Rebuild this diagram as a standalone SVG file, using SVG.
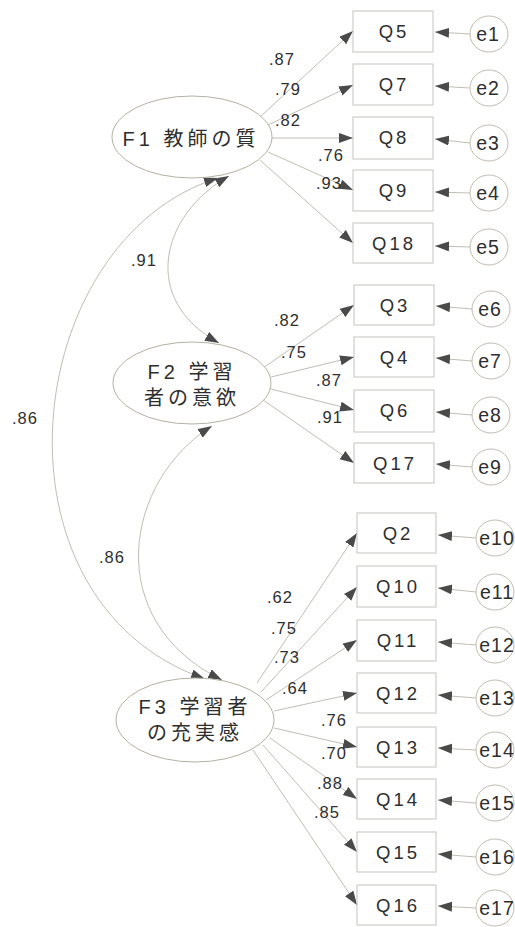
<svg xmlns="http://www.w3.org/2000/svg" width="515" height="927" viewBox="0 0 515 927">
<style>
.bg{fill:#ffffff}
.box{fill:#ffffff;stroke:#c4c4bc;stroke-width:1}
.lat{fill:#ffffff;stroke:#b4b0a2;stroke-width:1}
.err{fill:#ffffff;stroke:#c0bcb0;stroke-width:1}
.ln{fill:none;stroke:#b8b6aa;stroke-width:0.9}
.t{font-family:"Liberation Sans","Noto Sans CJK JP",sans-serif;fill:#2e2e2e}
.q{font-size:18.5px;letter-spacing:3px;text-anchor:middle}
.e{font-size:19.5px;letter-spacing:1px;text-anchor:middle}
.f{font-family:"Liberation Sans","Noto Sans CJK JP",sans-serif;font-size:20px;letter-spacing:4px;text-anchor:middle;fill:#2e2e2e}
.v{font-size:16.5px;letter-spacing:1px}
</style>
<defs>
<marker id="ah" markerUnits="userSpaceOnUse" markerWidth="15" markerHeight="11" refX="14" refY="5" orient="auto-start-reverse">
<path d="M0,0 L14,5 L0,10 Z" fill="#4a4a4a"/>
</marker>
</defs>
<rect class="bg" x="0" y="0" width="515" height="927"/>

<g id="connectors">
<line class="ln" x1="260" y1="117" x2="353" y2="31" marker-end="url(#ah)"/>
<line class="ln" x1="268" y1="125" x2="353" y2="85" marker-end="url(#ah)"/>
<line class="ln" x1="272" y1="138" x2="353" y2="138" marker-end="url(#ah)"/>
<line class="ln" x1="268" y1="152" x2="353" y2="190" marker-end="url(#ah)"/>
<line class="ln" x1="260" y1="160" x2="353" y2="243" marker-end="url(#ah)"/>
<line class="ln" x1="263" y1="368" x2="354" y2="305" marker-end="url(#ah)"/>
<line class="ln" x1="271" y1="377" x2="354" y2="357" marker-end="url(#ah)"/>
<line class="ln" x1="271" y1="389" x2="354" y2="410" marker-end="url(#ah)"/>
<line class="ln" x1="263" y1="400" x2="354" y2="463" marker-end="url(#ah)"/>
<line class="ln" x1="257" y1="683" x2="357" y2="533" marker-end="url(#ah)"/>
<line class="ln" x1="261" y1="692" x2="357" y2="587" marker-end="url(#ah)"/>
<line class="ln" x1="266" y1="700" x2="357" y2="640" marker-end="url(#ah)"/>
<line class="ln" x1="274" y1="711" x2="357" y2="693" marker-end="url(#ah)"/>
<line class="ln" x1="274" y1="728" x2="357" y2="747" marker-end="url(#ah)"/>
<line class="ln" x1="270" y1="738" x2="357" y2="799" marker-end="url(#ah)"/>
<line class="ln" x1="263" y1="745" x2="357" y2="852" marker-end="url(#ah)"/>
<line class="ln" x1="253" y1="750" x2="357" y2="905" marker-end="url(#ah)"/>
<line class="ln" x1="470" y1="34" x2="435" y2="32" marker-end="url(#ah)"/>
<line class="ln" x1="470" y1="88" x2="435" y2="86" marker-end="url(#ah)"/>
<line class="ln" x1="470" y1="143" x2="435" y2="139" marker-end="url(#ah)"/>
<line class="ln" x1="470" y1="193" x2="435" y2="192" marker-end="url(#ah)"/>
<line class="ln" x1="470" y1="247" x2="435" y2="246" marker-end="url(#ah)"/>
<line class="ln" x1="472" y1="309" x2="436" y2="306" marker-end="url(#ah)"/>
<line class="ln" x1="472" y1="361" x2="436" y2="358" marker-end="url(#ah)"/>
<line class="ln" x1="472" y1="415" x2="436" y2="412" marker-end="url(#ah)"/>
<line class="ln" x1="472" y1="467" x2="436" y2="464" marker-end="url(#ah)"/>
<line class="ln" x1="476" y1="538" x2="438" y2="535" marker-end="url(#ah)"/>
<line class="ln" x1="476" y1="592" x2="438" y2="588" marker-end="url(#ah)"/>
<line class="ln" x1="476" y1="645" x2="438" y2="642" marker-end="url(#ah)"/>
<line class="ln" x1="476" y1="698" x2="438" y2="695" marker-end="url(#ah)"/>
<line class="ln" x1="476" y1="750" x2="438" y2="748" marker-end="url(#ah)"/>
<line class="ln" x1="476" y1="803" x2="438" y2="800" marker-end="url(#ah)"/>
<line class="ln" x1="476" y1="857" x2="438" y2="854" marker-end="url(#ah)"/>
<line class="ln" x1="476" y1="908" x2="438" y2="906" marker-end="url(#ah)"/>
<path class="ln" d="M229,176 C160,215 140,300 219,343" marker-start="url(#ah)" marker-end="url(#ah)"/>
<path class="ln" d="M218,178 C20,240 -20,600 205,679" marker-start="url(#ah)" marker-end="url(#ah)"/>
<path class="ln" d="M212,426 C125,480 100,620 222,680" marker-start="url(#ah)" marker-end="url(#ah)"/>
<g class="t v">
<text x="269" y="65">.87</text>
<text x="275" y="95">.79</text>
<text x="275" y="126">.82</text>
<text x="318" y="161">.76</text>
<text x="316" y="189">.93</text>
<text x="131" y="266">.91</text>
<text x="274" y="326">.82</text>
<text x="281" y="358">.75</text>
<text x="316" y="386">.87</text>
<text x="317" y="423">.91</text>
<text x="12" y="424">.86</text>
<text x="99" y="563">.86</text>
<text x="267" y="603">.62</text>
<text x="271" y="634">.75</text>
<text x="274" y="663">.73</text>
<text x="282" y="694">.64</text>
<text x="321" y="726">.76</text>
<text x="321" y="759">.70</text>
<text x="317" y="789">.88</text>
<text x="314" y="818">.85</text>
</g>
</g>

<g id="F1"><ellipse class="lat" cx="192" cy="137" rx="80" ry="41"/><text class="f" x="191" y="146">F1 教師の質</text></g>
<g id="F2"><ellipse class="lat" cx="192" cy="383" rx="79" ry="41"/><text class="f" x="192" y="379">F2 学習</text><text class="f" x="192" y="405">者の意欲</text></g>
<g id="F3"><ellipse class="lat" cx="195" cy="720" rx="79" ry="42"/><text class="f" x="195" y="714">F3 学習者</text><text class="f" x="195" y="740">の充実感</text></g>

<g id="Q5"><rect class="box" x="353" y="11" width="80" height="41"/><text class="t q" x="394" y="38">Q5</text></g>
<g id="Q7"><rect class="box" x="353" y="64" width="80" height="41"/><text class="t q" x="394" y="91">Q7</text></g>
<g id="Q8"><rect class="box" x="353" y="117" width="80" height="42"/><text class="t q" x="394" y="144">Q8</text></g>
<g id="Q9"><rect class="box" x="353" y="170" width="80" height="41"/><text class="t q" x="394" y="197">Q9</text></g>
<g id="Q18"><rect class="box" x="353" y="223" width="80" height="40"/><text class="t q" x="394" y="250">Q18</text></g>
<g id="Q3"><rect class="box" x="354" y="285" width="80" height="40"/><text class="t q" x="395" y="312">Q3</text></g>
<g id="Q4"><rect class="box" x="354" y="337" width="80" height="40"/><text class="t q" x="395" y="364">Q4</text></g>
<g id="Q6"><rect class="box" x="354" y="390" width="80" height="42"/><text class="t q" x="395" y="417">Q6</text></g>
<g id="Q17"><rect class="box" x="354" y="443" width="80" height="40"/><text class="t q" x="395" y="470">Q17</text></g>
<g id="Q2"><rect class="box" x="357" y="513" width="79" height="40"/><text class="t q" x="398" y="540">Q2</text></g>
<g id="Q10"><rect class="box" x="357" y="566" width="79" height="41"/><text class="t q" x="398" y="593">Q10</text></g>
<g id="Q11"><rect class="box" x="357" y="620" width="79" height="41"/><text class="t q" x="398" y="647">Q11</text></g>
<g id="Q12"><rect class="box" x="357" y="673" width="79" height="40"/><text class="t q" x="398" y="700">Q12</text></g>
<g id="Q13"><rect class="box" x="357" y="727" width="79" height="40"/><text class="t q" x="398" y="754">Q13</text></g>
<g id="Q14"><rect class="box" x="357" y="779" width="79" height="40"/><text class="t q" x="398" y="806">Q14</text></g>
<g id="Q15"><rect class="box" x="357" y="832" width="79" height="40"/><text class="t q" x="398" y="859">Q15</text></g>
<g id="Q16"><rect class="box" x="357" y="885" width="79" height="40"/><text class="t q" x="398" y="912">Q16</text></g>

<g id="e1"><ellipse class="err" cx="489" cy="34" rx="19" ry="18"/><text class="t e" x="488" y="41">e1</text></g>
<g id="e2"><ellipse class="err" cx="489" cy="88" rx="19" ry="18"/><text class="t e" x="488" y="95">e2</text></g>
<g id="e3"><ellipse class="err" cx="489" cy="143" rx="19" ry="18"/><text class="t e" x="488" y="150">e3</text></g>
<g id="e4"><ellipse class="err" cx="489" cy="193" rx="19" ry="18"/><text class="t e" x="488" y="200">e4</text></g>
<g id="e5"><ellipse class="err" cx="489" cy="247" rx="19" ry="18"/><text class="t e" x="488" y="254">e5</text></g>
<g id="e6"><ellipse class="err" cx="491" cy="309" rx="19" ry="18"/><text class="t e" x="490" y="316">e6</text></g>
<g id="e7"><ellipse class="err" cx="491" cy="361" rx="19" ry="18"/><text class="t e" x="490" y="368">e7</text></g>
<g id="e8"><ellipse class="err" cx="491" cy="415" rx="19" ry="18"/><text class="t e" x="490" y="422">e8</text></g>
<g id="e9"><ellipse class="err" cx="491" cy="467" rx="19" ry="18"/><text class="t e" x="490" y="474">e9</text></g>
<g id="e10"><ellipse class="err" cx="495" cy="538" rx="19" ry="18"/><text class="t e" x="497" y="545">e10</text></g>
<g id="e11"><ellipse class="err" cx="495" cy="592" rx="19" ry="18"/><text class="t e" x="497" y="599">e11</text></g>
<g id="e12"><ellipse class="err" cx="495" cy="645" rx="19" ry="18"/><text class="t e" x="497" y="652">e12</text></g>
<g id="e13"><ellipse class="err" cx="495" cy="698" rx="19" ry="18"/><text class="t e" x="497" y="705">e13</text></g>
<g id="e14"><ellipse class="err" cx="495" cy="750" rx="19" ry="18"/><text class="t e" x="497" y="757">e14</text></g>
<g id="e15"><ellipse class="err" cx="495" cy="803" rx="19" ry="18"/><text class="t e" x="497" y="810">e15</text></g>
<g id="e16"><ellipse class="err" cx="495" cy="857" rx="19" ry="18"/><text class="t e" x="497" y="864">e16</text></g>
<g id="e17"><ellipse class="err" cx="495" cy="908" rx="19" ry="18"/><text class="t e" x="497" y="915">e17</text></g>
</svg>
